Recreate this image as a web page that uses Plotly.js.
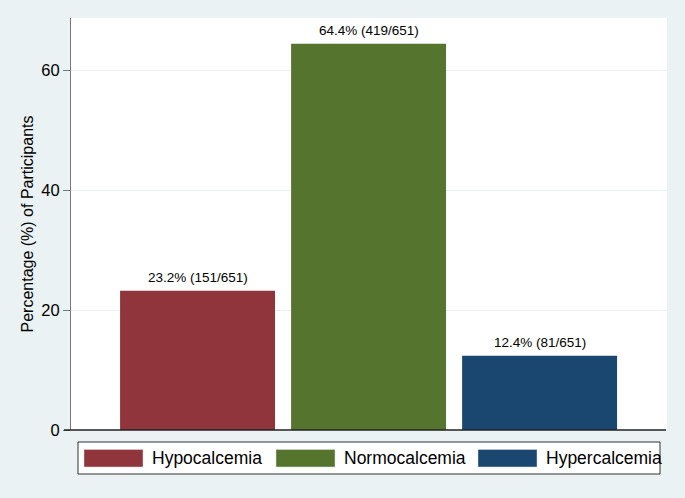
<!DOCTYPE html>
<html><head><meta charset="utf-8">
<script src="https://cdn.plot.ly/plotly-3.0.1.min.js"></script>
<style>html,body{margin:0;padding:0;background:#EAF2F3;}</style>
</head><body>
<div id="chart" style="width:685px;height:498px;"></div>
<script>
const categories = ["Hypocalcemia", "Normocalcemia", "Hypercalcemia"];
const percentages = [23.2, 64.4, 12.4];
const counts = [151, 419, 81];
const total = 651;
const barColors = ["#90353B", "#55752F", "#1A476F"];
const yTicks = [0, 20, 40, 60];

const labels = percentages.map((p, i) => p.toFixed(1) + "% (" + counts[i] + "/" + total + ")");

const traces = [{
  type: "bar",
  x: [0, 1, 2],
  y: percentages,
  width: 0.906,
  marker: {color: barColors, line: {width: 0}},
  hoverinfo: "skip",
  showlegend: false
}];

const annotations = percentages.map((p, i) => ({
  x: i, y: p, xref: "x", yref: "y",
  text: labels[i], showarrow: false,
  yanchor: "bottom", yshift: 4,
  font: {family: "Liberation Sans, Arial, sans-serif", size: 13.5, color: "#000"}
}));

// Custom legend (Stata style)
const W = 596, H = 412, L = 71, T = 18;
const px = v => (v - L) / W;
const py = v => (T + H - v) / H;
const shapes = [{
  type: "rect", xref: "paper", yref: "paper",
  x0: px(78), x1: px(660), y0: py(474), y1: py(442),
  line: {color: "#333", width: 1}, fillcolor: "#fff", layer: "below"
}];
const swatchX = [84, 276, 478];
categories.forEach((c, i) => {
  shapes.push({
    type: "rect", xref: "paper", yref: "paper",
    x0: px(swatchX[i]), x1: px(swatchX[i] + 59), y0: py(467), y1: py(449.5),
    fillcolor: barColors[i], line: {color: "#ddd", width: 0.5}
  });
  annotations.push({
    xref: "paper", yref: "paper",
    x: px(swatchX[i] + 65.5), y: py(458.5),
    xanchor: "left", yanchor: "middle", showarrow: false,
    text: c,
    font: {family: "Liberation Sans, Arial, sans-serif", size: 17.5, color: "#000"}
  });
});

const layout = {
  width: 685, height: 498,
  margin: {l: L, r: 18, t: T, b: 68, pad: 0},
  paper_bgcolor: "#EAF2F3",
  plot_bgcolor: "#FFFFFF",
  showlegend: false,
  xaxis: {
    range: [-0.74, 2.745], showticklabels: false, ticks: "",
    showgrid: false, zeroline: false, showline: false, fixedrange: true
  },
  yaxis: {
    range: [0, 68.7], tickvals: yTicks, ticktext: yTicks.map(String),
    ticks: "outside", ticklen: 7, tickcolor: "#777", tickwidth: 1,
    showline: true, linecolor: "#777", linewidth: 1,
    showgrid: true, gridcolor: "#EAF2F3", gridwidth: 1,
    zeroline: false,
    tickfont: {family: "Liberation Sans, Arial, sans-serif", size: 16.5, color: "#000"},
    title: {text: "Percentage (%) of Participants", standoff: 3,
      font: {family: "Liberation Sans, Arial, sans-serif", size: 16, color: "#000"}}
  },
  shapes: shapes.concat([{
    type: "line", xref: "paper", yref: "paper",
    x0: px(64), x1: px(666), y0: 0, y1: 0,
    line: {color: "#222", width: 1.3}
  }]),
  annotations: annotations
};

Plotly.newPlot("chart", traces, layout, {displayModeBar: false, staticPlot: true});
</script>
</body></html>
